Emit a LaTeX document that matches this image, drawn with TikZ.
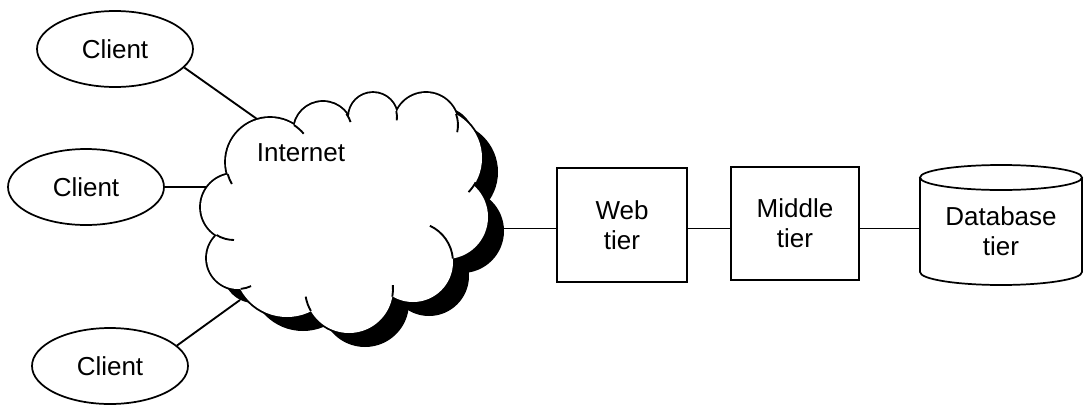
\documentclass[tikz,border=0pt]{standalone}
\usepackage{fontspec}
\setmainfont{Liberation Sans}
\usetikzlibrary{shapes.geometric}
\begin{document}
\begin{tikzpicture}[x=0.75pt,y=0.75pt,line width=1.5pt,
  every node/.style={font=\fontsize{19.5}{22.5}\selectfont, inner sep=0pt},
  client/.style={ellipse, draw, line width=1.3pt, minimum width=117pt, minimum height=57pt},
  tierbox/.style={draw, align=center},
  link/.style={line width=1.4pt}]
\useasboundingbox (0,0) rectangle (1090,-404);

% cloud lobes: centre x / centre y (downwards) / radius
\def\lobes{270/162/44, 323/131/29, 373/117/24, 426/125/32, 432/158/50,
  446/217/42, 413/262/40, 349/289/44, 287/264/53, 238/258/31, 234/207/33}
\def\core{(270,-162) -- (323,-131) -- (373,-117) -- (426,-125) -- (432,-158)
  -- (446,-217) -- (413,-262) -- (349,-289) -- (287,-264) -- (238,-258)
  -- (234,-207) -- cycle}

% drop shadow of the cloud
\begin{scope}[shift={(16,-14)}]
  \foreach \cx/\cy/\r in \lobes {\fill[black] (\cx,-\cy) circle[radius=\r];}
  \fill[black] \core;
\end{scope}
% outline: wide strokes, inner half hidden by the white fill
\foreach \cx/\cy/\r in \lobes {\draw[line width=2.8pt] (\cx,-\cy) circle[radius=\r];}
\foreach \cx/\cy/\r in \lobes {\fill[white] (\cx,-\cy) circle[radius=\r];}
\fill[white] \core;
% short inner strokes where the puffs overlap
\foreach \cx/\cy/\r/\s/\e in {270/162/44/57/40, 323/131/29/36/18, 373/117/24/14/-8,
  426/125/32/20/-13, 432/158/50/-29/-43, 413/262/40/5/65, 349/289/44/-10/5,
  349/289/44/210/190, 238/258/31/-85/-65, 234/207/33/-122/-90, 270/162/44/196/210}
  {\draw[line width=1.4pt] (\cx,-\cy) ++(\s:\r) arc[start angle=\s, end angle=\e, radius=\r];}

\node (inet) at (301,-153) {Internet};

% attachment points on the cloud
\coordinate (cA) at (257,-119);
\coordinate (cK) at (206,-187);
\coordinate (cC) at (240,-300);
\coordinate (cR) at (504,-228.5);

% clients
\node[client] (c1) at (115,-49) {Client};
\node[client] (c2) at (86,-187) {Client};
\node[client] (c3) at (110,-366) {Client};

% tiers
\node[tierbox, minimum width=97.5pt, minimum height=85.5pt] (web) at (622,-225) {Web\\tier};
\node[tierbox, minimum width=96pt, minimum height=84.75pt] (mid) at (795,-223.5) {Middle\\tier};
\node[align=center, minimum width=121.5pt] (db) at (1001,-231) {Database\\tier};

% database cylinder
\draw[line width=1.3pt] (920,-177.5) -- (920,-272)
  arc[start angle=180, end angle=360, x radius=81, y radius=13] -- (1082,-177.5);
\draw[line width=1.3pt] (1001,-177.5) ellipse[x radius=81, y radius=12.5];

% connectors
\draw[link] (c1.-15) -- (cA);
\draw[link] (c2.east) -- (cK);
\draw[link] (c3.17) -- (cC);
\draw[link] (cR) -- (cR -| web.west);
\draw[link] (web.east |- cR) -- (cR -| mid.west);
\draw[link] (mid.east |- cR) -- (cR -| db.west);
\end{tikzpicture}
\end{document}
